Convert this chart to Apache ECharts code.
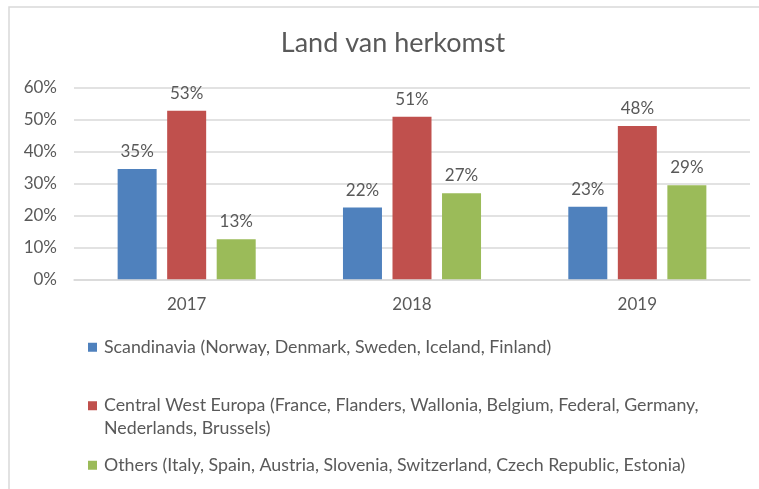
<!DOCTYPE html>
<html>
<head>
<meta charset="utf-8">
<script src="https://cdn.jsdelivr.net/npm/echarts@6/dist/echarts.min.js"></script>
<style>
  html, body { margin: 0; padding: 0; background: #fff; }
  #chart { width: 759px; height: 489px; }
</style>
</head>
<body>
<div id="chart"></div>
<script>
// --- data ---
const years = ['2017', '2018', '2019'];
const seriesNames = [
  'Scandinavia (Norway, Denmark, Sweden, Iceland, Finland)',
  'Central West Europa (France, Flanders, Wallonia, Belgium, Federal, Germany, Nederlands, Brussels)',
  'Others (Italy, Spain, Austria, Slovenia, Switzerland, Czech Republic, Estonia)'
];
const scandinavia = [34.5, 22.4, 22.7];
const centralWest = [52.7, 50.8, 47.9];
const others      = [12.5, 26.9, 29.4];
const yTicks = [0, 10, 20, 30, 40, 50, 60];

const COLORS = ['#4F81BD', '#C0504D', '#9BBB59'];
const TEXT = '#595959';
const FONT = 'Lato, "Open Sans", sans-serif';

const chart = echarts.init(document.getElementById('chart'), null, { renderer: 'canvas' });

const legendBase = {
  orient: 'vertical',
  left: 83,
  icon: 'rect',
  itemWidth: 9, itemHeight: 9,
  itemGap: 0,
  textStyle: { color: TEXT, fontSize: 17.8, fontFamily: FONT, lineHeight: 22.5, padding: [0, 0, 0, 2] },
};

const option = {
  animation: false,
  backgroundColor: '#fff',
  color: COLORS,
  title: {
    text: 'Land van herkomst',
    left: 388, top: 25,
    textAlign: 'center',
    textStyle: { color: TEXT, fontSize: 27, fontWeight: 'normal', fontFamily: FONT },
  },
  graphic: [{
    type: 'rect',
    shape: { x: 9, y: 7, width: 800, height: 520 },
    style: { fill: 'none', stroke: '#D9D9D9', lineWidth: 1.5 },
    silent: true,
  }],
  legend: [
    { ...legendBase, top: 331, data: [seriesNames[0]] },
    {
      ...legendBase, top: 367, data: [seriesNames[1]],
      // blank first line keeps the marker beside the first text line
      formatter: () => '\nCentral West Europa (France, Flanders, Wallonia, Belgium, Federal, Germany,\nNederlands, Brussels)',
    },
    { ...legendBase, top: 449, data: [seriesNames[2]] },
  ],
  grid: { left: 74, right: 9, top: 87.3, bottom: 209.7, containLabel: false },
  xAxis: {
    type: 'category',
    data: years,
    axisLine: { lineStyle: { color: '#D9D9D9', width: 1.5 } },
    axisTick: { show: false },
    axisLabel: { color: TEXT, fontSize: 17, fontFamily: FONT, margin: 17 },
  },
  yAxis: {
    type: 'value',
    min: yTicks[0], max: yTicks[yTicks.length - 1], interval: 10,
    axisLine: { show: false },
    axisTick: { show: false },
    splitLine: { lineStyle: { color: '#D9D9D9', width: 1.5 } },
    axisLabel: { color: TEXT, fontSize: 17, fontFamily: FONT, margin: 17, formatter: v => v + '%' },
  },
  series: [scandinavia, centralWest, others].map((d, i) => ({
    name: seriesNames[i],
    type: 'bar',
    data: d,
    barWidth: 39,
    barGap: '27%',
    itemStyle: { color: COLORS[i] },
    label: {
      show: true,
      position: 'top',
      distance: 9,
      color: TEXT,
      fontSize: 17,
      fontFamily: FONT,
      formatter: p => Math.round(p.value) + '%',
    },
  })),
};

chart.setOption(option);
</script>
</body>
</html>
